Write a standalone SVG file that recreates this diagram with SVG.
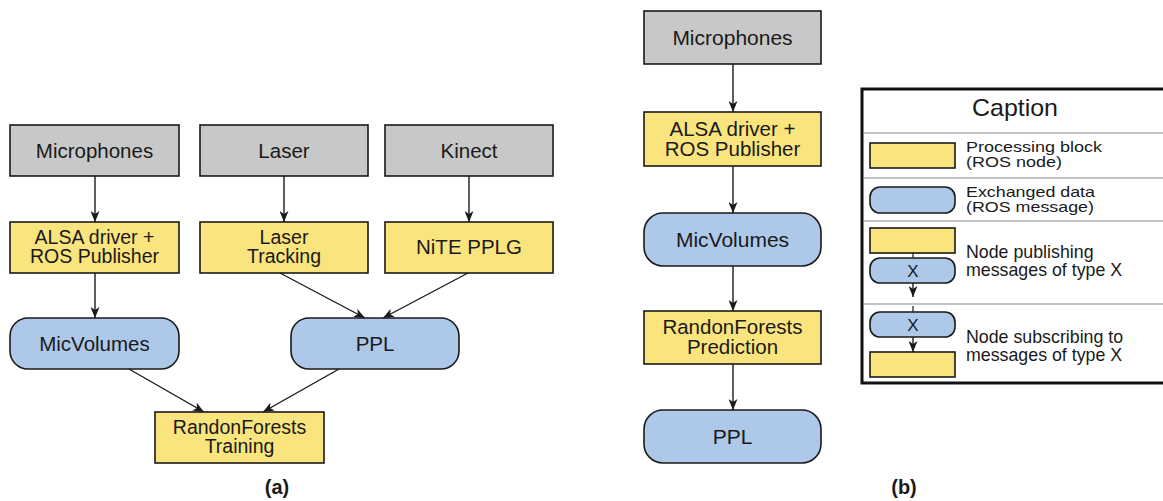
<svg xmlns="http://www.w3.org/2000/svg" width="1163" height="501" viewBox="0 0 1163 501">
  <style>
    .src { fill: #c8c8c8; stroke: #1a1a1a; stroke-width: 1.6; }
    .proc { fill: #fae47e; stroke: #1a1a1a; stroke-width: 1.6; }
    .msg { fill: #adc8e8; stroke: #1a1a1a; stroke-width: 1.6; }
    text { font-family: "Liberation Sans", Arial, sans-serif; fill: #1a1a1a; }
    .t { font-size: 20.5px; text-anchor: middle; }
    .t2 { font-size: 19.5px; text-anchor: middle; }
    .tb { font-size: 21px; text-anchor: middle; }
    .tb2 { font-size: 20.5px; text-anchor: middle; }
    .lbl { font-size: 20px; font-weight: bold; text-anchor: middle; }
    .cap { font-size: 15px; }
    .cap2 { font-size: 17.8px; }
    .edge { stroke: #1a1a1a; stroke-width: 1.4; fill: none; marker-end: url(#arr); }
    .div { stroke: #8a8a8a; stroke-width: 1.2; }
  </style>
  <defs>
    <marker id="arr" markerWidth="12" markerHeight="9" refX="11" refY="4.5" orient="auto" markerUnits="userSpaceOnUse">
      <path d="M0,0 L11,4.5 L0,9 L3,4.5 z" fill="#1a1a1a"/>
    </marker>
  </defs>

  <rect width="1163" height="501" fill="#ffffff"/>

  <!-- Panel (a) -->
  <g id="a-microphones"><rect class="src" x="10" y="125" width="169" height="51"/><text class="t" x="94.5" y="158">Microphones</text></g>
  <g id="a-laser"><rect class="src" x="200" y="125" width="168" height="51"/><text class="t" x="284" y="158">Laser</text></g>
  <g id="a-kinect"><rect class="src" x="385" y="125" width="168" height="51"/><text class="t" x="469" y="158">Kinect</text></g>
  <g id="a-alsa"><rect class="proc" x="10" y="222" width="169" height="51"/><text class="t2" x="94.5" y="244">ALSA driver +</text><text class="t2" x="94.5" y="263">ROS Publisher</text></g>
  <g id="a-lasertracking"><rect class="proc" x="200" y="222" width="168" height="51"/><text class="t2" x="284" y="244">Laser</text><text class="t2" x="284" y="263">Tracking</text></g>
  <g id="a-nite"><rect class="proc" x="385" y="222" width="168" height="51"/><text class="t" x="469" y="254">NiTE PPLG</text></g>
  <g id="a-micvolumes"><rect class="msg" x="10" y="318" width="169" height="51" rx="18"/><text class="t" x="94.5" y="351">MicVolumes</text></g>
  <g id="a-ppl"><rect class="msg" x="291" y="318" width="168" height="51" rx="18"/><text class="t" x="375" y="351">PPL</text></g>
  <g id="a-rftraining"><rect class="proc" x="155" y="412" width="169" height="51"/><text class="t2" x="239.5" y="434">RandonForests</text><text class="t2" x="239.5" y="453">Training</text></g>
  <text class="lbl" x="277" y="494">(a)</text>

  <!-- Panel (b) -->
  <g id="b-microphones"><rect class="src" x="644" y="11" width="177" height="53"/><text class="tb" x="732.5" y="45">Microphones</text></g>
  <g id="b-alsa"><rect class="proc" x="644" y="112" width="177" height="54"/><text class="tb2" x="732.5" y="136">ALSA driver +</text><text class="tb2" x="732.5" y="156">ROS Publisher</text></g>
  <g id="b-micvolumes"><rect class="msg" x="644" y="213" width="177" height="53" rx="19"/><text class="tb" x="732.5" y="247">MicVolumes</text></g>
  <g id="b-rfprediction"><rect class="proc" x="644" y="311" width="177" height="53"/><text class="tb2" x="732.5" y="334">RandonForests</text><text class="tb2" x="732.5" y="354">Prediction</text></g>
  <g id="b-ppl"><rect class="msg" x="644" y="410" width="177" height="53" rx="19"/><text class="tb" x="732.5" y="444">PPL</text></g>
  <text class="lbl" x="904" y="494">(b)</text>

  <!-- Connectors -->
  <g id="connectors">
    <line class="edge" x1="95" y1="176" x2="95" y2="222"/>
    <line class="edge" x1="284" y1="176" x2="284" y2="222"/>
    <line class="edge" x1="469" y1="176" x2="469" y2="222"/>
    <line class="edge" x1="95" y1="273" x2="95" y2="318"/>
    <line class="edge" x1="280" y1="273" x2="365" y2="318"/>
    <line class="edge" x1="468" y1="273" x2="383" y2="318"/>
    <line class="edge" x1="129" y1="369" x2="204" y2="412"/>
    <line class="edge" x1="339" y1="369" x2="263" y2="412"/>
    <line class="edge" x1="733" y1="64" x2="733" y2="112"/>
    <line class="edge" x1="733" y1="166" x2="733" y2="213"/>
    <line class="edge" x1="733" y1="266" x2="733" y2="311"/>
    <line class="edge" x1="733" y1="364" x2="733" y2="410"/>
  </g>

  <!-- Caption -->
  <g id="caption">
    <rect x="862" y="89" width="310" height="294" fill="#ffffff" stroke="#111" stroke-width="3"/>
    <text x="1015" y="116" font-size="24" text-anchor="middle" textLength="86" lengthAdjust="spacingAndGlyphs">Caption</text>
    <line class="div" x1="863.5" y1="133" x2="1163" y2="133"/>
    <line class="div" x1="863.5" y1="178" x2="1163" y2="178"/>
    <line class="div" x1="863.5" y1="221" x2="1163" y2="221"/>
    <line class="div" x1="863.5" y1="304" x2="1163" y2="304"/>

    <rect class="proc" x="870" y="143" width="85" height="25"/>
    <text class="cap" x="966" y="152" textLength="136" lengthAdjust="spacingAndGlyphs">Processing block</text>
    <text class="cap" x="966" y="167" textLength="96" lengthAdjust="spacingAndGlyphs">(ROS node)</text>

    <rect class="msg" x="870" y="187" width="85" height="26" rx="10"/>
    <text class="cap" x="966" y="197" textLength="129" lengthAdjust="spacingAndGlyphs">Exchanged data</text>
    <text class="cap" x="966" y="212" textLength="128" lengthAdjust="spacingAndGlyphs">(ROS message)</text>

    <rect class="proc" x="870" y="228" width="85" height="25"/>
    <line x1="913" y1="253" x2="913" y2="258" stroke="#1a1a1a" stroke-width="1.2"/>
    <rect class="msg" x="870" y="258" width="85" height="25" rx="10"/>
    <text x="913" y="277" font-size="17" text-anchor="middle">X</text>
    <line class="edge" x1="913" y1="283" x2="913" y2="297"/>
    <text class="cap2" x="966" y="258">Node publishing</text>
    <text class="cap2" x="966" y="276">messages of type X</text>

    <line x1="913" y1="306" x2="913" y2="312" stroke="#1a1a1a" stroke-width="1.2"/>
    <rect class="msg" x="870" y="312" width="85" height="25" rx="10"/>
    <text x="913" y="331" font-size="17" text-anchor="middle">X</text>
    <line class="edge" x1="913" y1="337" x2="913" y2="352"/>
    <rect class="proc" x="870" y="352" width="85" height="25"/>
    <text class="cap2" x="966" y="343">Node subscribing to</text>
    <text class="cap2" x="966" y="361">messages of type X</text>
  </g>
</svg>
